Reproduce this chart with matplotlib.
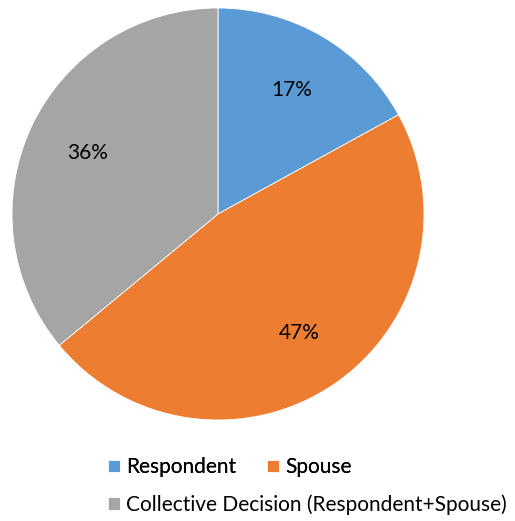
import matplotlib
matplotlib.use('Agg')
import matplotlib.pyplot as plt

# who makes the decision
labels = ['Respondent', 'Spouse', 'Collective Decision (Respondent+Spouse)']
shares = [17, 47, 36]
colors = ['#5B9BD5', '#ED7D31', '#A5A5A5']

plt.rcParams['font.family'] = ['Lato', 'DejaVu Sans']

fig = plt.figure(figsize=(5.15, 5.21), dpi=100)
ax = fig.add_axes([12 / 515, 101 / 521, 412 / 515, 412 / 521])

wedges, texts, autotexts = ax.pie(
    shares, colors=colors, startangle=90, counterclock=False,
    autopct='%d%%', pctdistance=0.7, textprops={'fontsize': 15, 'color': 'black'},
    wedgeprops={'edgecolor': 'white', 'linewidth': 0.6},
)
ax.set_xlim(-1, 1)
ax.set_ylim(-1, 1)
ax.set_aspect('equal')

# legend: two entries on the first row, the long one below
leg1 = fig.legend(wedges[:2], labels[:2], ncol=2, loc='upper left',
                  bbox_to_anchor=(100 / 515, 1 - 449 / 521), frameon=False,
                  fontsize=15, handlelength=0.55, handleheight=0.55,
                  handletextpad=0.3, columnspacing=1.5, borderaxespad=0)
fig.add_artist(leg1)
fig.legend(wedges[2:], labels[2:], loc='upper left',
           bbox_to_anchor=(100 / 515, 1 - 486 / 521), frameon=False,
           fontsize=15, handlelength=0.55, handleheight=0.55,
           handletextpad=0.3, borderaxespad=0)

fig.savefig('out.png', dpi=100)
